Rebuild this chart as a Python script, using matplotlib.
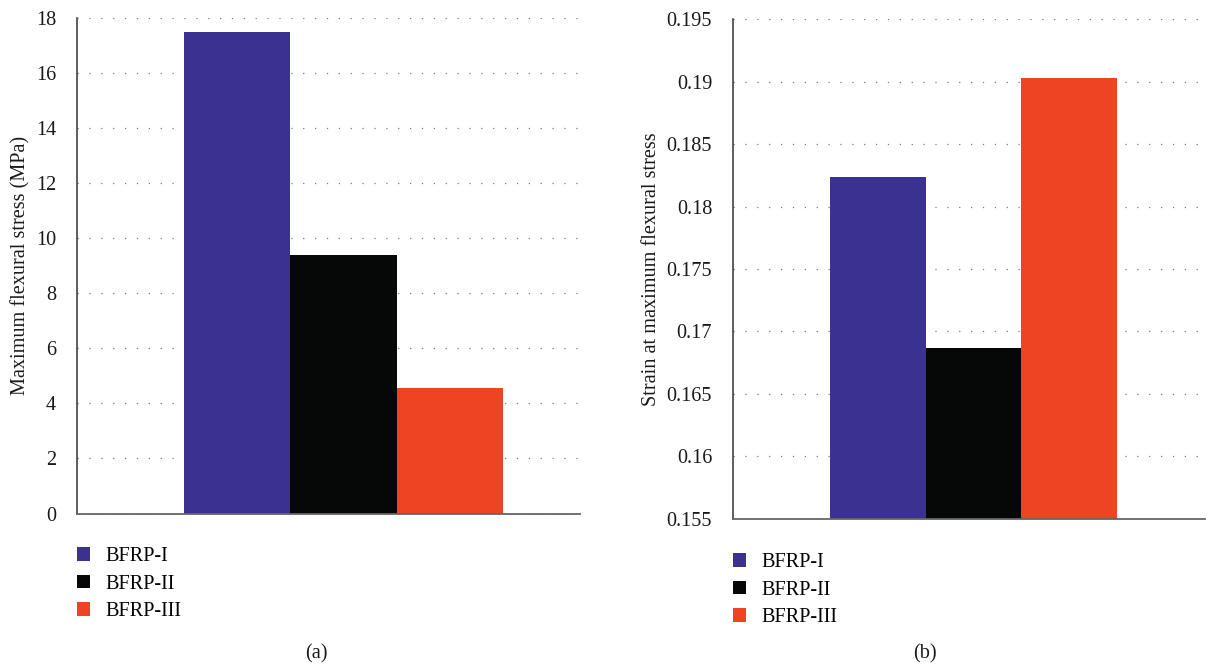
import matplotlib
matplotlib.use("Agg")
import matplotlib.pyplot as plt
from matplotlib.patches import Patch

# Specimen groups and measured results
groups = ["BFRP-I", "BFRP-II", "BFRP-III"]
colors = ["#3B3191", "#050807", "#EE4423"]
flexural_stress = [17.5, 9.4, 4.55]            # MPa
strain_at_max = [0.1824, 0.1687, 0.1903]

stress_ticks = [0, 2, 4, 6, 8, 10, 12, 14, 16, 18]
strain_ticks = [0.155, 0.16, 0.165, 0.17, 0.175, 0.18, 0.185, 0.19, 0.195]
strain_ticklabels = ["0.155", "0.16", "0.165", "0.17", "0.175", "0.18", "0.185", "0.19", "0.195"]

FS = 14.6
plt.rcParams["font.family"] = ["Liberation Serif", "DejaVu Serif"]
plt.rcParams["font.size"] = FS

fig = plt.figure(figsize=(12.12, 6.67), dpi=100)
ax_a = fig.add_axes([0.0635, 0.2301, 0.415, 0.743])
ax_b = fig.add_axes([0.6048, 0.2219, 0.3894, 0.7496])


def style_axes(ax, ylim, ticks, ticklabels, ylabel, xlim, labelpad):
    ax.set_ylim(*ylim)
    ax.set_xlim(*xlim)
    ax.set_yticks(ticks)
    ax.set_yticklabels(ticklabels)
    ax.set_xticks([])
    ax.tick_params(axis="y", length=0, pad=15, labelsize=FS, colors="#1a1a1a")
    for side in ("top", "right"):
        ax.spines[side].set_visible(False)
    ax.spines["left"].set_color("#333333")
    ax.spines["left"].set_linewidth(1.1)
    ax.spines["bottom"].set_color("#666666")
    ax.spines["bottom"].set_linewidth(1.3)
    ax.yaxis.grid(True, color="#7a7a7a", linewidth=0.9, linestyle=(0, (1, 8.5)))
    ax.set_axisbelow(True)
    ax.set_ylabel(ylabel, fontsize=FS, color="#1a1a1a", labelpad=labelpad)


x = list(range(len(groups)))

ax_a.bar(x, flexural_stress, width=1.0, color=colors, linewidth=0)
style_axes(ax_a, (0, 18), stress_ticks, [str(t) for t in stress_ticks],
           "Maximum flexural stress (MPa)", (-1.507, 3.224), 4)

ax_b.bar(x, strain_at_max, width=1.0, color=colors, linewidth=0)
style_axes(ax_b, (0.155, 0.195), strain_ticks, strain_ticklabels,
           "Strain at maximum flexural stress", (-1.514, 3.42), 4)

handles = [Patch(facecolor=c, edgecolor="none", label=g) for g, c in zip(groups, colors)]
legend_kw = dict(frameon=False, fontsize=FS, handlelength=0.65, handleheight=0.65,
                 handletextpad=0.75, labelspacing=0.42, borderpad=0, borderaxespad=0)
fig.legend(handles=handles, loc="upper left", bbox_to_anchor=(77 / 1212, 1 - 547 / 667), **legend_kw)
fig.legend(handles=handles, loc="upper left", bbox_to_anchor=(733 / 1212, 1 - 553 / 667), **legend_kw)

fig.text(316 / 1212, 1 - 654 / 667, "(a)", ha="center", va="center", fontsize=FS, color="#1a1a1a")
fig.text(925 / 1212, 1 - 654 / 667, "(b)", ha="center", va="center", fontsize=FS, color="#1a1a1a")

fig.savefig("out.png", dpi=100)
